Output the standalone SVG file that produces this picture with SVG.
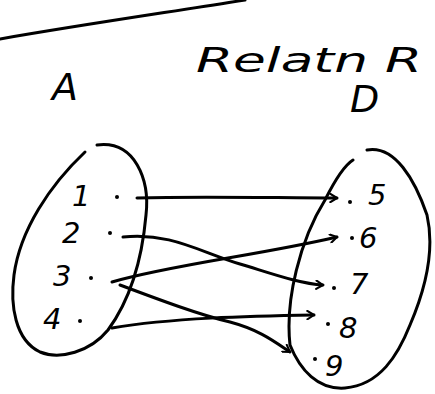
<svg xmlns="http://www.w3.org/2000/svg" width="435" height="394" viewBox="0 0 435 394">
<style>
.ink{fill:none;stroke:#000;stroke-width:3;stroke-linecap:round;stroke-linejoin:round}
.lbl{font-family:"DejaVu Sans",sans-serif;font-style:italic;fill:#000}
.big{font-size:38px}
.ttl{font-size:34px}
.num{font-size:29px}
.dot{fill:#000}
</style>
<defs>
<marker id="ah" viewBox="0 0 12 12" refX="10" refY="6" markerWidth="10" markerHeight="10" markerUnits="userSpaceOnUse" orient="auto">
<path d="M2,1 L10,6 L2,11" fill="none" stroke="#000" stroke-width="2.5" stroke-linecap="round" stroke-linejoin="round"/>
</marker>
</defs>
<rect width="435" height="394" fill="#fff"/>
<path class="ink" d="M0,39 C80,25 170,12 245,0"/>
<g id="title">
<text class="lbl big" x="52" y="100">A</text>
<text class="lbl ttl" x="196" y="72" textLength="226" lengthAdjust="spacingAndGlyphs">Relatn R</text>
<text class="lbl big" x="350" y="112">D</text>
</g>
<g id="setA">
<path class="ink" d="M97,145 C135,140 150,180 146,215 C142,260 130,300 108,330 C90,352 60,360 40,352 C15,340 10,305 14,275 C20,230 50,185 85,152"/>
<text class="lbl num" x="72" y="206">1</text>
<text class="lbl num" x="62" y="243">2</text>
<text class="lbl num" x="53" y="286">3</text>
<text class="lbl num" x="43" y="329">4</text>
<circle class="dot" cx="117" cy="197" r="2"/>
<circle class="dot" cx="110" cy="233" r="2"/>
<circle class="dot" cx="91" cy="278" r="2"/>
<circle class="dot" cx="80" cy="321" r="2"/>
</g>
<g id="setB">
<path class="ink" d="M367,150 C395,145 415,180 427,215 C435,250 425,290 410,325 C398,355 380,385 345,388 C318,390 300,370 290,345 C285,300 300,240 325,200 C335,180 345,165 353,160"/>
<text class="lbl num" x="368" y="205">5</text>
<text class="lbl num" x="359" y="248">6</text>
<text class="lbl num" x="350" y="294">7</text>
<text class="lbl num" x="339" y="338">8</text>
<text class="lbl num" x="325" y="376">9</text>
<circle class="dot" cx="350" cy="202" r="2"/>
<circle class="dot" cx="352" cy="238" r="2"/>
<circle class="dot" cx="334" cy="288" r="2"/>
<circle class="dot" cx="328" cy="324" r="2"/>
<circle class="dot" cx="315" cy="359" r="2"/>
</g>
<g id="connectors">
<path class="ink" marker-end="url(#ah)" d="M137,198 C200,196 280,198 337,198"/>
<path class="ink" marker-end="url(#ah)" d="M123,237 C170,232 200,252 240,264 C270,273 300,284 323,285"/>
<path class="ink" marker-end="url(#ah)" d="M112,282 C170,265 260,255 337,237"/>
<path class="ink" marker-end="url(#ah)" d="M120,285 C160,300 200,315 230,322 C260,330 275,342 290,352"/>
<path class="ink" marker-end="url(#ah)" d="M112,328 C170,318 250,316 314,315"/>
</g>
</svg>
